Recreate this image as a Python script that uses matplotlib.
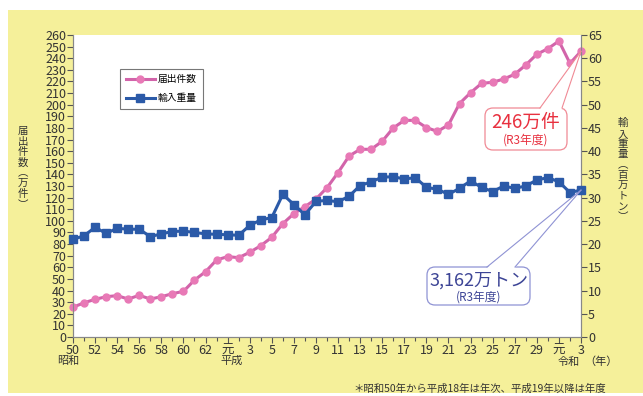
import matplotlib.pyplot as plt
from matplotlib.patches import FancyBboxPatch, Polygon, Rectangle
from matplotlib.ticker import MultipleLocator

plt.rcParams['font.family'] = ['Noto Sans CJK JP', 'DejaVu Sans']

# 昭和50年〜令和3年
year_labels = [str(y) for y in range(50, 64)] + ['元'] + [str(y) for y in range(2, 31)] + ['元', '2', '3']
# 届出件数（万件）
notifications = [25.6, 29.5, 32.4, 34.7, 35.6, 32.7, 35.9, 32.7, 34.7, 37.3,
                 39.3, 49.0, 56.2, 66.3, 69.2, 68.3, 72.9, 78.6, 85.8, 97.6,
                 106.2, 112.2, 118.8, 128.5, 141.5, 155.8, 161.6, 161.6, 168.5, 180.0,
                 186.5, 186.5, 180.3, 177.0, 182.6, 201.0, 210.3, 218.4, 219.3, 222.1,
                 226.2, 234.2, 243.4, 248.2, 254.8, 235.6, 246.0]
# 輸入重量（百万トン）
weight = [21.0, 21.8, 23.6, 22.3, 23.4, 23.2, 23.2, 21.6, 22.2, 22.7,
          22.8, 22.5, 22.2, 22.1, 22.0, 21.9, 24.0, 25.2, 25.7, 30.7,
          28.5, 26.3, 29.2, 29.4, 29.1, 30.3, 32.6, 33.4, 34.4, 34.5,
          34.0, 34.3, 32.2, 31.8, 30.7, 32.0, 33.6, 32.2, 31.3, 32.5,
          32.0, 32.5, 33.8, 34.3, 33.4, 31.1, 31.62]
x = list(range(len(year_labels)))

pink_line = '#d264aa'
pink_mark = '#e879b6'
blue = '#2b5aa8'
txt = '#333333'

fig = plt.figure(figsize=(6.43, 3.96), dpi=100, facecolor='white')
fig.add_artist(Rectangle((8 / 643, 3 / 396), 1, 383 / 396, transform=fig.transFigure,
                         facecolor='#f5f09a', edgecolor='none', zorder=-10))

ax = fig.add_axes([73 / 643, 59 / 396, 508 / 643, 302 / 396])
ax.set_facecolor('white')
ax2 = ax.twinx()

l1, = ax.plot(x, notifications, color=pink_line, lw=2.2, marker='o', ms=5,
              mfc=pink_mark, mec=pink_mark, clip_on=False, zorder=3, label='届出件数')
l2, = ax2.plot(x, weight, color=blue, lw=2.2, marker='s', ms=5.5,
               mfc=blue, mec=blue, clip_on=False, zorder=3, label='輸入重量')

ax.set_xlim(0, len(x) - 1)
ax.set_ylim(0, 260)
ax2.set_ylim(0, 65)
ax.yaxis.set_major_locator(MultipleLocator(10))
ax2.yaxis.set_major_locator(MultipleLocator(5))
ax.set_xticks(x[::2])
ax.set_xticklabels(year_labels[::2])
ax.set_xticks(x, minor=True)

ax.set_yticks(range(0, 261, 20), minor=True)
ax.grid(which='minor', axis='y', color='#b5b5b5', lw=1.2)
ax.set_axisbelow(True)

for a in (ax, ax2):
    a.tick_params(which='both', direction='out', colors='#555555', labelcolor=txt,
                  labelsize=9, length=4, width=0.8, pad=1)
    for s in a.spines.values():
        s.set_color('#888888')
    a.spines['top'].set_visible(False)
ax.tick_params(axis='y', which='minor', length=0)
ax.tick_params(axis='x', which='minor', length=3)
ax.tick_params(axis='x', pad=1)

# 元号
era = dict(transform=ax.get_xaxis_transform(), fontsize=8, color=txt, ha='center', va='center')
ax.text(-0.45, -0.078, '昭和', **era)
ax.text(14.4, -0.08, '平成', **era)
ax.text(44.9, -0.082, '令和', **era)
ax.text(47.8, -0.082, '（年）', **era)

# 縦書きの軸ラベル
fig.text(23 / 643, 1 - 168 / 396, '\n'.join('届出件数︵万件︶'), fontsize=7.5, color=txt,
         ha='center', va='center', linespacing=1.05)
fig.text(623 / 643, 1 - 170 / 396, '\n'.join('輸入重量︵百万トン︶'), fontsize=7.5, color=txt,
         ha='center', va='center', linespacing=1.05)

leg = ax.legend(handles=[l1, l2], loc='upper left', bbox_to_anchor=(0.083, 0.905),
                fontsize=7, frameon=True, fancybox=False, handlelength=3,
                borderpad=0.6, labelspacing=0.9, handletextpad=0.3)
leg.get_frame().set_edgecolor('#555555')
leg.get_frame().set_linewidth(0.8)
leg.set_zorder(10)

# 吹き出し
inch = fig.dpi_scale_trans


def callout(axis, xi, yv, box, base, edge, lines):
    tip = inch.inverted().transform(axis.transData.transform((xi, yv)))
    x0, y0, x1, y1 = box
    fig.add_artist(FancyBboxPatch((x0, y0), x1 - x0, y1 - y0,
                                  boxstyle='round,pad=0,rounding_size=0.08',
                                  transform=inch, facecolor='white', edgecolor=edge,
                                  lw=0.9, zorder=6))
    fig.add_artist(Polygon([(base[0], y1 - 0.01), (base[1], y1 - 0.01), tip], closed=True,
                           transform=inch, facecolor='white', edgecolor='none', zorder=6.5))
    for bx in base:
        fig.add_artist(plt.Line2D([bx, tip[0]], [y1, tip[1]], transform=inch,
                                  color=edge, lw=0.8, zorder=7))
    cx = (x0 + x1) / 2
    for text, dy, size, color in lines:
        fig.text(cx, y0 + dy, text, transform=inch, fontsize=size, color=color,
                 ha='center', va='center', zorder=8)


callout(ax, x[-1], notifications[-1], (4.85, 2.46, 5.67, 2.88), (5.40, 5.62), '#f08a95',
        [('246万件', 0.28, 13.5, '#e8303f'), ('(R3年度)', 0.10, 8.5, '#e8303f')])
callout(ax2, x[-1], weight[-1], (4.27, 0.91, 5.30, 1.29), (4.87, 5.15), '#8f93d4',
        [('3,162万トン', 0.24, 13, '#3d4596'), ('(R3年度)', 0.08, 8.5, '#3d4596')])

# 注記
fig.text(480 / 643, 1 - 389 / 396, '＊昭和50年から平成18年は年次、平成19年以降は年度',
         fontsize=7.5, color=txt, ha='center', va='center')
fig.add_artist(Rectangle((0, 1 - 10 / 396), 1, 10 / 396, transform=fig.transFigure,
                         facecolor='white', edgecolor='none', zorder=-5))

fig.savefig('out.png', dpi=100, facecolor='white')
